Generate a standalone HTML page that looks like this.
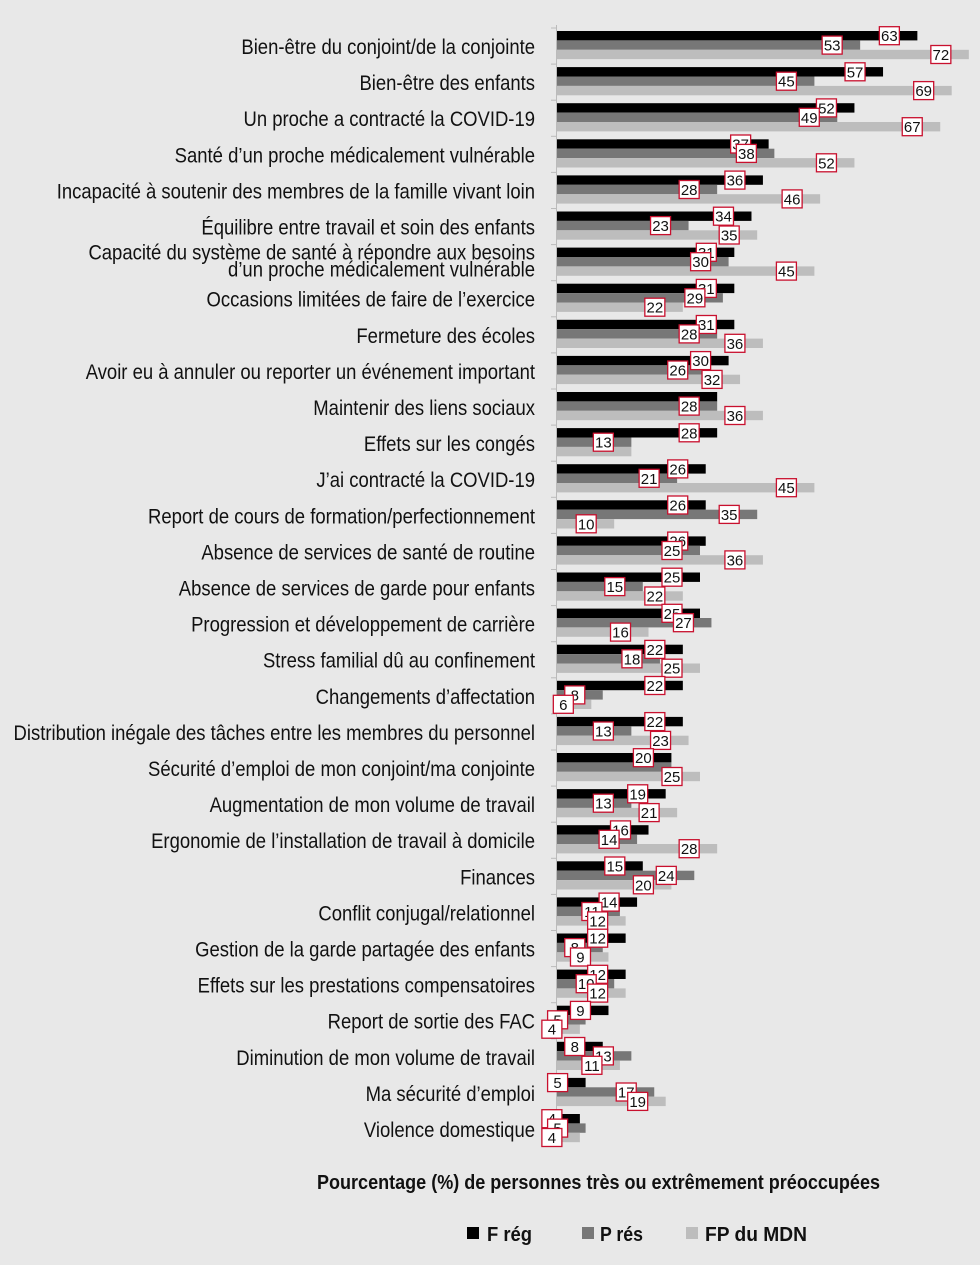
<!DOCTYPE html>
<html><head><meta charset="utf-8"><style>
html,body{margin:0;padding:0;background:#e8e8e8;}
svg{display:block;}
.lab{font-family:"Liberation Sans",sans-serif;font-size:21px;fill:#111;}
.val{font-family:"Liberation Sans",sans-serif;font-size:15px;fill:#111;}
.bold{font-family:"Liberation Sans",sans-serif;font-weight:bold;fill:#111;}
</style></head><body>
<svg id="chart" width="980" height="1265" xmlns="http://www.w3.org/2000/svg">
<rect width="980" height="1265" fill="#e8e8e8"/>
<g id="bars"></g>
<g id="labels"></g>
<g id="vals"></g>
<text class="bold" x="317" y="1189" font-size="20" textLength="563" lengthAdjust="spacingAndGlyphs">Pourcentage (%) de personnes très ou extrêmement préoccupées</text>
<g>
<rect x="467" y="1227" width="12" height="12" fill="#000"/>
<text class="bold" x="487" y="1241" font-size="20" textLength="45" lengthAdjust="spacingAndGlyphs">F rég</text>
<rect x="582" y="1227" width="12" height="12" fill="#777"/>
<text class="bold" x="600" y="1241" font-size="20" textLength="43" lengthAdjust="spacingAndGlyphs">P rés</text>
<rect x="686" y="1227" width="12" height="12" fill="#bdbdbd"/>
<text class="bold" x="705" y="1241" font-size="20" textLength="102" lengthAdjust="spacingAndGlyphs">FP du MDN</text>
</g>
</svg>
<script>
const categories = ["Bien-être du conjoint/de la conjointe","Bien-être des enfants","Un proche a contracté la COVID-19","Santé d’un proche médicalement vulnérable","Incapacité à soutenir des membres de la famille vivant loin","Équilibre entre travail et soin des enfants","Capacité du système de santé à répondre aux besoins|d’un proche médicalement vulnérable","Occasions limitées de faire de l’exercice","Fermeture des écoles","Avoir eu à annuler ou reporter un événement important","Maintenir des liens sociaux","Effets sur les congés","J’ai contracté la COVID-19","Report de cours de formation/perfectionnement","Absence de services de santé de routine","Absence de services de garde pour enfants","Progression et développement de carrière","Stress familial dû au confinement","Changements d’affectation","Distribution inégale des tâches entre les membres du personnel","Sécurité d’emploi de mon conjoint/ma conjointe","Augmentation de mon volume de travail","Ergonomie de l’installation de travail à domicile","Finances","Conflit conjugal/relationnel","Gestion de la garde partagée des enfants","Effets sur les prestations compensatoires","Report de sortie des FAC","Diminution de mon volume de travail","Ma sécurité d’emploi","Violence domestique"];
const fReg = [63,57,52,37,36,34,31,31,31,30,28,28,26,26,26,25,25,22,22,22,20,19,16,15,14,12,12,9,8,5,4];
const pRes = [53,45,49,38,28,23,30,29,28,26,28,13,21,35,25,15,27,18,8,13,20,13,14,24,11,8,10,5,13,17,5];
const fpMdn = [72,69,67,52,46,35,45,22,36,32,36,13,45,10,36,22,16,25,6,23,25,21,28,20,12,9,12,4,11,19,4];
const showF = [1,1,1,1,1,1,1,1,1,1,0,1,1,1,1,1,1,1,1,1,1,1,1,1,1,1,1,1,1,1,1];
const showP = [1,1,1,1,1,1,1,1,1,1,1,1,1,1,1,1,1,1,1,1,0,1,1,1,1,1,1,1,1,1,1];
const showFP = [1,1,1,1,1,1,1,1,1,1,1,0,1,1,1,1,1,1,1,1,1,1,1,1,1,1,1,1,1,1,1];

const NS="http://www.w3.org/2000/svg";
const x0=557, unit=5.72, top0=31, step=36.1, bh=9.4;
const xs=v=>x0+v*unit;
const ys=i=>top0+i*step;
const gb=document.getElementById('bars'), gl=document.getElementById('labels'), gv=document.getElementById('vals');
function mk(tag,attrs,parent){const e=document.createElementNS(NS,tag);for(const k in attrs)e.setAttribute(k,attrs[k]);parent.appendChild(e);return e;}
const axis=mk('line',{x1:x0-0.5,x2:x0-0.5,y1:25,y2:1142,stroke:'#bbb','stroke-width':1},gb);


const series=[[fReg,'#000','f-reg',showF],[pRes,'#777','p-res',showP],[fpMdn,'#bdbdbd','fp-mdn',showFP]];
categories.forEach((c,i)=>{
  const tk=mk('line',{x1:x0-6,x2:x0,y1:ys(i)-3,y2:ys(i)-3,stroke:'#bbb'},gb);
  
  
  series.forEach((s,j)=>{
    const r=mk('rect',{x:x0,y:ys(i)+j*bh,width:Math.max(0,xs(s[0][i])-x0),height:bh,fill:s[1]},gb);
    
    
  });
  const lines=c.split('|');
  const t=mk('text',{x:535,y:ys(i)+(lines.length>1?12:23),'text-anchor':'end',class:'lab',transform:'translate(535 0) scale(0.88 1) translate(-535 0)'},gl);
  
  
  lines.forEach((ln,k)=>{const ts=mk('tspan',{x:535,dy:k?17:0},t);ts.textContent=ln;});
});
categories.forEach((c,i)=>{
  series.forEach((s,j)=>{
    if(!s[3][i])return;
    const v=s[0][i];
    const bx=Math.max(xs(v)-38,541);
    const cy=ys(i)+j*bh+bh/2;
    const g=mk('g',{},gv);
    
    
    mk('rect',{x:bx,y:cy-9,width:20,height:18,fill:'#fff',stroke:'#c8102e','stroke-width':1.3},g);
    const t=mk('text',{x:bx+10,y:cy+5.5,'text-anchor':'middle',class:'val'},g);
    t.textContent=v;
  });
});
</script>
</body></html>
